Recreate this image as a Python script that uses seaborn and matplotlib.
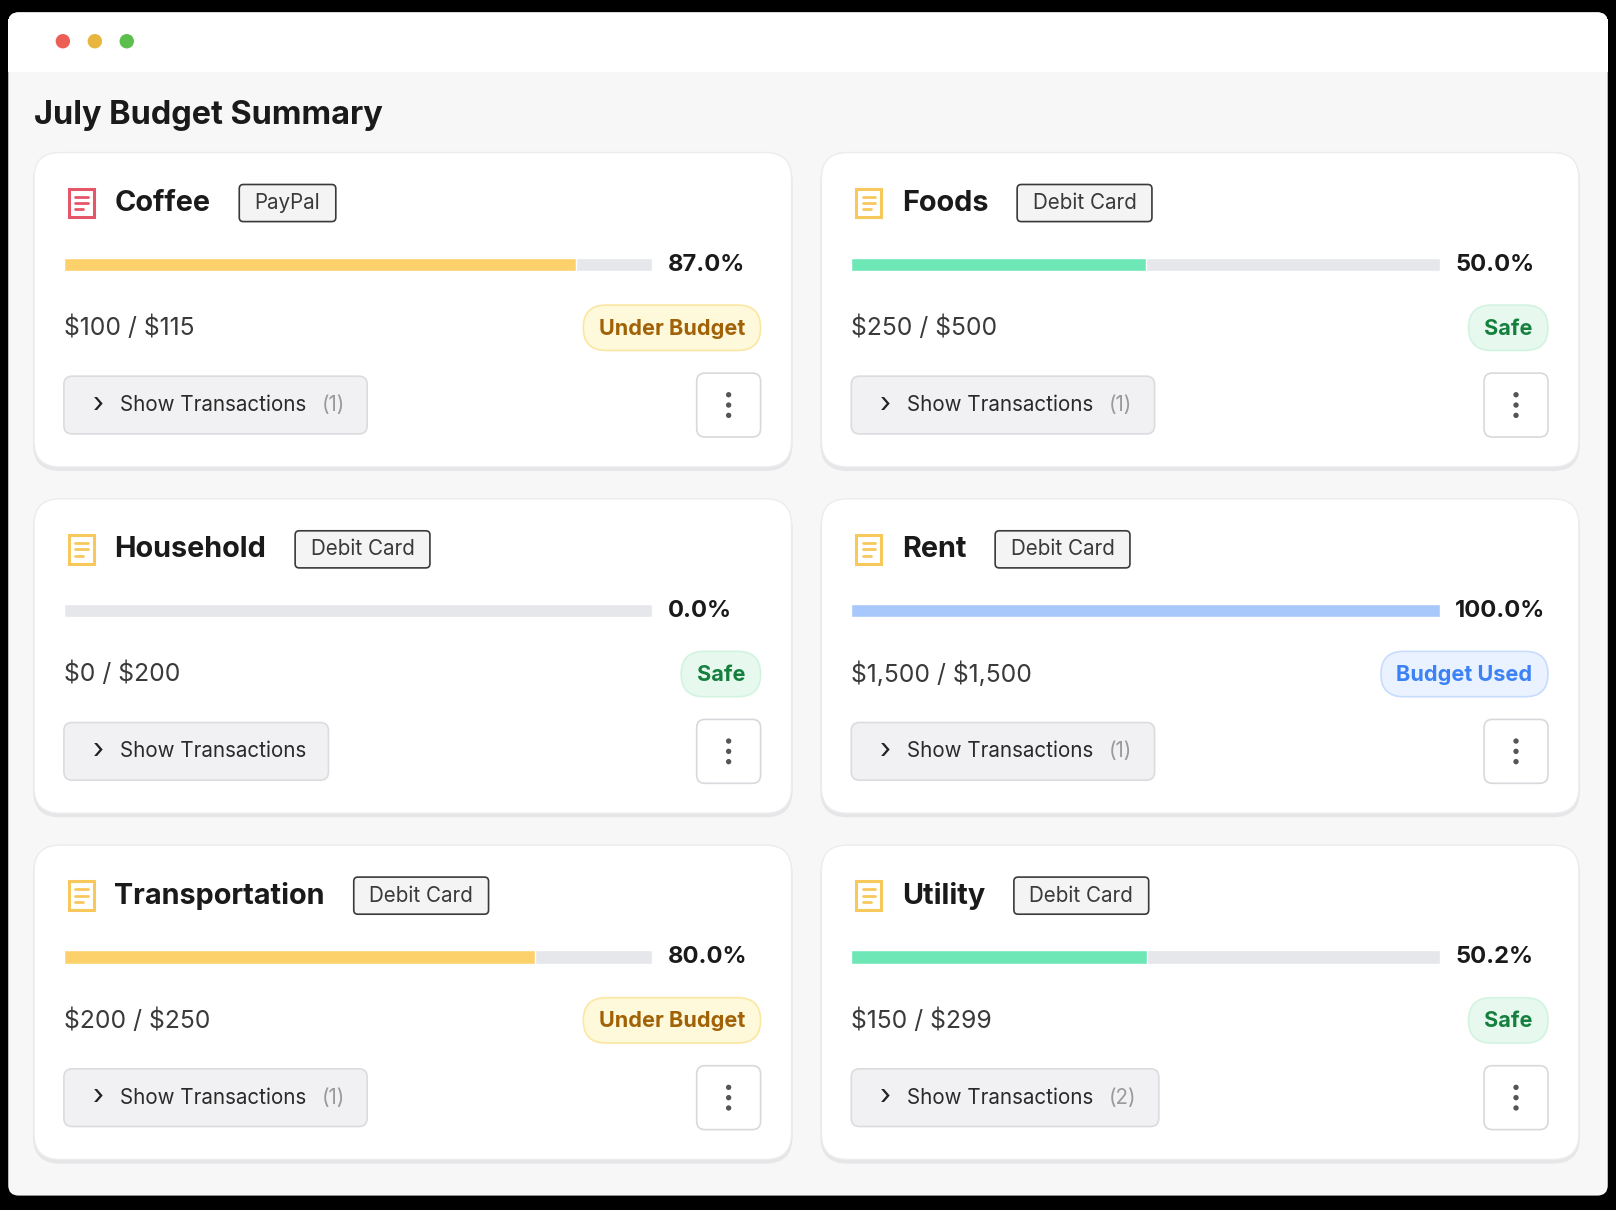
import matplotlib
matplotlib.use("Agg")
import matplotlib.pyplot as plt
import seaborn as sns
from matplotlib.patches import FancyBboxPatch, Rectangle, Circle

# data
categories = ["Coffee", "Foods", "Household", "Rent", "Transportation", "Utility"]
methods = ["PayPal", "Debit Card", "Debit Card", "Debit Card", "Debit Card", "Debit Card"]
pcts = [87.0, 50.0, 0.0, 100.0, 80.0, 50.2]
amounts = ["$100 / $115", "$250 / $500", "$0 / $200", "$1,500 / $1,500", "$200 / $250", "$150 / $299"]
statuses = ["Under Budget", "Safe", "Safe", "Budget Used", "Under Budget", "Safe"]
tx_counts = ["(1)", "(1)", "", "(1)", "(1)", "(2)"]

W, H = 1568, 1174
S = 1616 / W
def pt(px):
    return px * S * 72 / 100

FONT = "Inter"
sns.set_theme(style="white", font=FONT)
plt.rcParams["text.parse_math"] = False

STATUS_STYLE = {
    "Under Budget": ("#fef9db", "#fbe7a1", "#a16207", "#fcd16b"),
    "Safe": ("#e7f9ef", "#d3f3e1", "#15803d", "#6ee7b7"),
    "Budget Used": ("#eaf2ff", "#c7dcfd", "#3b82f6", "#a8c8fb"),
}

fig = plt.figure(figsize=(16.16, 12.10), dpi=100)
ax = fig.add_axes([0, 0, 1, 1])
ax.set_xlim(0, W)
ax.set_ylim(H, 0)
ax.axis("off")
fig.patch.set_facecolor("black")

def rbox(x, y, w, h, r, fc, ec="none", lw=1, z=1):
    p = FancyBboxPatch((x + r, y + r), w - 2 * r, h - 2 * r,
                       boxstyle=f"round,pad={r}", fc=fc, ec=ec, lw=lw, zorder=z)
    ax.add_patch(p)
    return p

# window
rbox(8, 12, 1552, 1148, 10, "#f7f7f8", z=0)
ax.add_patch(Rectangle((8, 18), 1552, 52, fc="white", ec="none", zorder=0.5))
rbox(8, 12, 1552, 20, 10, "white", z=0.4)
for x, c in zip([61, 92, 123], ["#ec5f57", "#e8b53f", "#5cbf4b"]):
    ax.add_patch(Circle((x, 40), 7, fc=c, ec="none", zorder=1))

ax.text(33, 112, "July Budget Summary", fontsize=pt(31.5), fontweight="bold",
        color="#1a1a1a", va="center", ha="left", family=FONT)

fig.canvas.draw()
renderer = fig.canvas.get_renderer()
inv = ax.transData.inverted()

def text_right(t):
    bb = t.get_window_extent(renderer)
    return inv.transform((bb.x1, bb.y0))[0]

card_pos = [(33, 148), (797, 148), (33, 484), (797, 484), (33, 820), (797, 820)]
for i, (cx, cy) in enumerate(card_pos):
    cat, meth, pc, amt, st, tx = categories[i], methods[i], pcts[i], amounts[i], statuses[i], tx_counts[i]
    bg, border, tcol, fillc = STATUS_STYLE[st]
    # card shadow + card
    rbox(cx - 1, cy + 2, 737, 307, 26, "#e6e6e9", z=1)
    rbox(cx, cy, 735, 305, 25, "white", ec="#ececef", lw=1, z=1.1)

    # icon
    icol = "#e5566b" if cat == "Coffee" else "#f7c85c"
    ax.add_patch(Rectangle((cx + 34, cy + 35), 24, 28, fc="none", ec=icol, lw=2.2, zorder=2))
    for k in range(3):
        ax.plot([cx + 40, cx + 52 - (4 if k == 2 else 0)], [cy + 43 + 6 * k] * 2,
                color=icol, lw=2, zorder=2)

    name = ax.text(cx + 78, cy + 49, cat, fontsize=pt(28), fontweight="bold",
                   color="#1a1a1a", va="center", ha="left", zorder=3)
    nx = text_right(name) + 28
    bt = ax.text(nx + 15, cy + 49, meth, fontsize=pt(20), color="#3a3a3a",
                 va="center", ha="left", zorder=3)
    bx1 = text_right(bt) + 15
    rbox(nx, cy + 31, bx1 - nx, 36, 4, "#f4f4f5", ec="#3a3a3a", lw=1.2, z=2)

    # progress bar via seaborn in inset axes
    x0, x1 = cx + 29, cx + 600
    y0 = cy + 102
    fx0, fx1 = x0 / W, x1 / W
    fy = 1 - (y0 + 13) / H
    iax = fig.add_axes([fx0, fy, fx1 - fx0, 13 / H])
    sns.barplot(x=[100.0], y=[0], orient="h", color="#e5e7eb", width=1.0,
                saturation=1, ax=iax)
    sns.barplot(x=[pc], y=[0], orient="h", color=fillc, width=1.0,
                saturation=1, ax=iax)
    iax.set_xlim(0, 100)
    iax.axis("off")
    ax.text(cx + 615, cy + 109, f"{pc:.1f}%", fontsize=pt(23), fontweight="bold",
            color="#1a1a1a", va="center", ha="left", zorder=3)

    ax.text(cx + 29, cy + 170, amt, fontsize=pt(24), color="#3a3a3a",
            va="center", ha="left", zorder=3)

    # status pill
    stt = ax.text(cx + 690, cy + 171, st, fontsize=pt(21), fontweight="bold",
                  color=tcol, va="center", ha="right", zorder=3)
    bb = stt.get_window_extent(renderer)
    sx0 = inv.transform((bb.x0, bb.y0))[0] - 15
    rbox(sx0, cy + 148, cx + 705 - sx0, 44, 22, bg, ec=border, lw=1.2, z=2)

    # show transactions button
    ax.text(cx + 57, cy + 245, "\u203a", fontsize=pt(28), color="#222",
            va="center", ha="left", zorder=3)
    lab = ax.text(cx + 83, cy + 245, "Show Transactions", fontsize=pt(20),
                  color="#2a2a2a", va="center", ha="left", zorder=3)
    ex = text_right(lab)
    if tx:
        c = ax.text(ex + 15, cy + 245, tx, fontsize=pt(20), color="#9a9a9a",
                    va="center", ha="left", zorder=3)
        ex = text_right(c)
    rbox(cx + 29, cy + 217, ex + 22 - (cx + 29), 56, 8, "#f1f1f3", ec="#dcdce0", lw=1.2, z=2)

    # kebab button
    rbox(cx + 643, cy + 214, 62, 62, 8, "white", ec="#d9d9dd", lw=1.2, z=2)
    for k in (-10, 0, 10):
        ax.add_patch(Circle((cx + 674, cy + 245 + k), 2.6, fc="#555", ec="none", zorder=3))

fig.savefig("out.png", dpi=100, facecolor=fig.get_facecolor())
